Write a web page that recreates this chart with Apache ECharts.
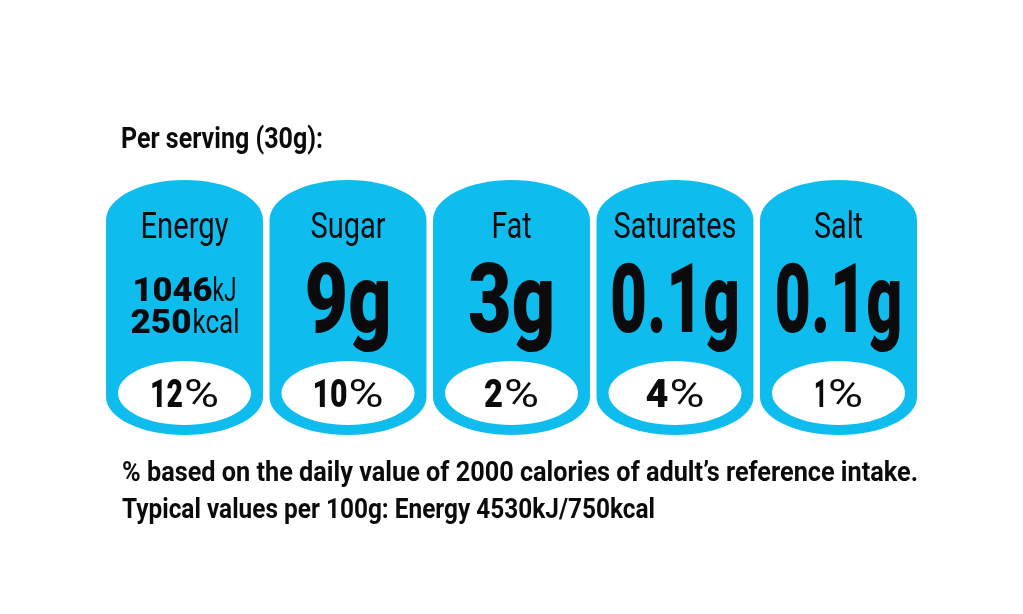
<!DOCTYPE html>
<html><head><meta charset="utf-8">
<style>html,body{margin:0;padding:0;background:#fff}#c{width:1023px;height:614px}</style>
<script src="https://cdn.jsdelivr.net/npm/echarts@6/dist/echarts.min.js"></script>
</head><body><div id="c"></div>
<script>
const nutrients = ['Energy','Sugar','Fat','Saturates','Salt'];
const amounts = ['', '9g', '3g', '0.1g', '0.1g'];
const energyKj = ['1046','kJ'];
const energyKcal = ['250','kcal'];
const percents = ['12','10','2','4','1'];
const heading = 'Per serving (30g):';
const noteLine1 = '% based on the daily value of 2000 calories of adult\u2019s reference intake.';
const noteLine2 = 'Typical values per 100g: Energy 4530kJ/750kcal';

// layout only (pixel widths the condensed type is fitted to)
const titleW = [88,75,40,123,49];
const amountW = [0,87,87,130,128];
const pctNumW = [33,35,19,23,13];
const PCT_W = 35;
const BLUE = '#0fbcee', INK = '#0b0b0d';
const FONT = 'Roboto';
const mctx = document.createElement('canvas').getContext('2d');
function fit(t, size, weight, w){
  mctx.font = weight+' '+size+'px '+FONT;
  return w / mctx.measureText(t).width;
}
function txt(t, x, base, size, weight, w, align){
  return {type:'text', x:x, y:base-0.345*size, scaleX:fit(t,size,weight,w), silent:true,
    style:{text:t, fontFamily:FONT, fontSize:size, fontWeight:weight, fill:INK,
      align:align||'center', verticalAlign:'middle'}};
}
function renderItem(params, api){
  const i = api.value(0);
  const top = api.coord([i,1]), bot = api.coord([i,0]);
  const c = top[0], t = top[1], b = bot[1];
  const rx = api.size([1,0])[0]*0.48, ryT = 40, ryB = 38, k = 0.5523;
  const L = c-rx, R = c+rx;
  const path = `M${L} ${t+ryT}C${L} ${t+ryT*(1-k)} ${c-rx*k} ${t} ${c} ${t}`+
    `C${c+rx*k} ${t} ${R} ${t+ryT*(1-k)} ${R} ${t+ryT}`+
    `L${R} ${b-ryB}C${R} ${b-ryB*(1-k)} ${c+rx*k} ${b} ${c} ${b}`+
    `C${c-rx*k} ${b} ${L} ${b-ryB*(1-k)} ${L} ${b-ryB}Z`;
  const kids = [
    {type:'path', shape:{pathData:path}, style:{fill:BLUE}, silent:true},
    {type:'ellipse', shape:{cx:c, cy:t+213, rx:66.5, ry:32}, style:{fill:'#fff'}, silent:true},
    txt(nutrients[i], c, t+61, 36, 400, titleW[i])
  ];
  if(i===0){
    kids.push(txt(energyKj[0], c-52, t+124, 33, 900, 80, 'left'));
    kids.push(txt(energyKj[1], c+28, t+124, 33, 400, 24, 'left'));
    kids.push(txt(energyKcal[0], c-54, t+156, 33, 900, 61, 'left'));
    kids.push(txt(energyKcal[1], c+8, t+156, 33, 400, 47, 'left'));
  } else {
    kids.push(txt(amounts[i], c, t+161, 97, 900, amountW[i]));
  }
  const nw = pctNumW[i], total = nw+PCT_W+1, x0 = c-total/2;
  kids.push(txt(percents[i], x0, t+231, 39, 900, nw, 'left'));
  kids.push(txt('%', x0+nw+1, t+231, 39, 400, PCT_W, 'left'));
  return {type:'group', children:kids};
}
function noteText(t, x, base, size, w){
  return {type:'text', x:x, y:base-0.345*size, scaleX:fit(t,size,700,w), silent:true,
    style:{text:t, fontFamily:FONT, fontSize:size, fontWeight:700, fill:INK, align:'left', verticalAlign:'middle'}};
}
const chart = echarts.init(document.getElementById('c'), null, {renderer:'canvas'});
chart.setOption({
  animation:false,
  backgroundColor:'#fff',
  grid:{left:102.75, right:102.75, top:180, height:255},
  xAxis:{type:'category', data:nutrients, show:false},
  yAxis:{type:'value', min:0, max:1, show:false},
  series:[{type:'custom', renderItem:renderItem, clip:false,
    data:nutrients.map((n,i)=>[i,1])}],
  graphic:[
    noteText(heading, 121, 151, 30, 202),
    noteText(noteLine1, 122, 484, 28, 796),
    noteText(noteLine2, 122, 521, 28, 533)
  ]
});
</script></body></html>
